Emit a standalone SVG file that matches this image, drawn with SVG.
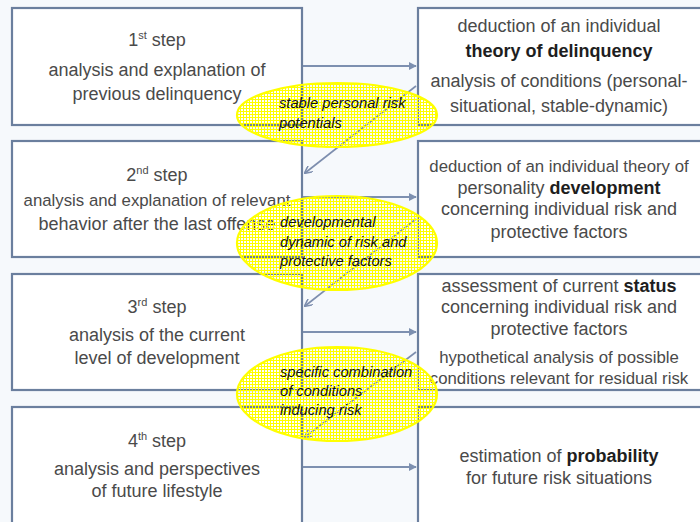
<svg xmlns="http://www.w3.org/2000/svg" width="700" height="522" viewBox="0 0 700 522">
<style>
.box{fill:#ffffff;stroke:#6b7f9e;stroke-width:2.2}
.t{font-family:"Liberation Sans",Arial,sans-serif;font-size:18px;fill:#4a4a4a;text-anchor:middle}
.s{font-size:16.8px}
.b{font-weight:bold;fill:#1e1e1e}
.sup{font-size:11px}
.e{fill:url(#dots);stroke:#ffff00;stroke-width:2.2}
.et{font-family:"Liberation Sans",Arial,sans-serif;font-size:14.7px;font-style:italic;fill:#111111}
.arr{stroke:#7d90b0;stroke-width:2;fill:none;marker-end:url(#ah)}
.diag{stroke:#7d8eae;stroke-width:1.6;fill:none;marker-end:url(#ah2)}
</style>
<defs>
<marker id="ah" viewBox="0 0 10 10" refX="9" refY="5" markerWidth="4" markerHeight="4" orient="auto"><path d="M0,0 L10,5 L0,10 z" fill="#7d90b0"/></marker>
<marker id="ah2" viewBox="0 0 10 10" refX="9" refY="5" markerWidth="5" markerHeight="5" orient="auto"><path d="M0,0 L10,5 L0,10" fill="none" stroke="#7d8eae" stroke-width="2"/></marker>
<pattern id="dots" width="3" height="3" patternUnits="userSpaceOnUse"><rect x="0" y="0" width="3" height="1" fill="#ffff00"/><rect x="0" y="0" width="1" height="3" fill="#ffff00"/></pattern>
</defs>
<rect x="0" y="0" width="700" height="522" fill="#f6f9fc"/>

<g id="left1"><rect class="box" x="12" y="8" width="290" height="117"/>
<text class="t" x="157" y="46">1<tspan class="sup" dy="-7">st</tspan><tspan dy="7"> step</tspan></text>
<text class="t" x="157" y="76">analysis and explanation of</text>
<text class="t" x="157" y="100">previous delinquency</text></g>

<g id="left2"><rect class="box" x="12" y="141" width="290" height="116"/>
<text class="t" x="157" y="181">2<tspan class="sup" dy="-7">nd</tspan><tspan dy="7"> step</tspan></text>
<text class="t s" x="157" y="206">analysis and explanation of relevant</text>
<text class="t" x="157" y="230">behavior after the last offense</text></g>

<g id="left3"><rect class="box" x="12" y="274" width="290" height="116"/>
<text class="t" x="157" y="313">3<tspan class="sup" dy="-7">rd</tspan><tspan dy="7"> step</tspan></text>
<text class="t" x="157" y="341">analysis of the current</text>
<text class="t" x="157" y="364">level of development</text></g>

<g id="left4"><rect class="box" x="12" y="407" width="290" height="125"/>
<text class="t" x="157" y="447">4<tspan class="sup" dy="-7">th</tspan><tspan dy="7"> step</tspan></text>
<text class="t" x="157" y="475">analysis and perspectives</text>
<text class="t" x="157" y="497">of future lifestyle</text></g>

<g id="right1"><rect class="box" x="418" y="8" width="292" height="117"/>
<text class="t" x="559" y="32">deduction of an individual</text>
<text class="t b" x="559" y="57">theory of delinquency</text>
<text class="t" x="559" y="87">analysis of conditions (personal-</text>
<text class="t" x="559" y="112">situational, stable-dynamic)</text></g>

<g id="right2"><rect class="box" x="418" y="141" width="292" height="116"/>
<text class="t s" x="559" y="172">deduction of an individual theory of</text>
<text class="t" x="559" y="194">personality <tspan class="b">development</tspan></text>
<text class="t" x="559" y="215">concerning individual risk and</text>
<text class="t" x="559" y="238">protective factors</text></g>

<g id="right3"><rect class="box" x="418" y="274" width="292" height="116"/>
<text class="t" x="559" y="292">assessment of current <tspan class="b">status</tspan></text>
<text class="t" x="559" y="313">concerning  individual risk and</text>
<text class="t" x="559" y="335">protective factors</text>
<text class="t s" x="559" y="363">hypothetical analysis of possible</text>
<text class="t s" x="559" y="384">conditions relevant for residual risk</text></g>

<g id="right4"><rect class="box" x="418" y="407" width="292" height="125"/>
<text class="t" x="559" y="462">estimation of <tspan class="b">probability</tspan></text>
<text class="t" x="559" y="484">for future risk situations</text></g>

<g id="connectors">
<line class="arr" x1="303" y1="66" x2="416" y2="66"/>
<line class="arr" x1="303" y1="197" x2="416" y2="197"/>
<line class="arr" x1="303" y1="332" x2="416" y2="332"/>
<line class="arr" x1="303" y1="467" x2="416" y2="467"/>
<line class="diag" x1="416" y1="86" x2="305" y2="173"/>
<line class="diag" x1="416" y1="219" x2="305" y2="306"/>
<line class="diag" x1="416" y1="352" x2="305" y2="437"/>
</g>

<g id="ellipse1"><ellipse class="e" cx="337" cy="115" rx="100" ry="32"/>
<text class="et" x="279" y="108">stable personal risk</text>
<text class="et" x="279" y="128">potentials</text></g>

<g id="ellipse2"><ellipse class="e" cx="337" cy="243" rx="100" ry="47"/>
<text class="et" x="280" y="227">developmental</text>
<text class="et" x="280" y="247">dynamic of risk and</text>
<text class="et" x="280" y="266">protective factors</text></g>

<g id="ellipse3"><ellipse class="e" cx="337" cy="394" rx="100" ry="47"/>
<text class="et" x="280" y="377">specific  combination</text>
<text class="et" x="280" y="396">of conditions</text>
<text class="et" x="280" y="415">inducing risk</text></g>
</svg>
